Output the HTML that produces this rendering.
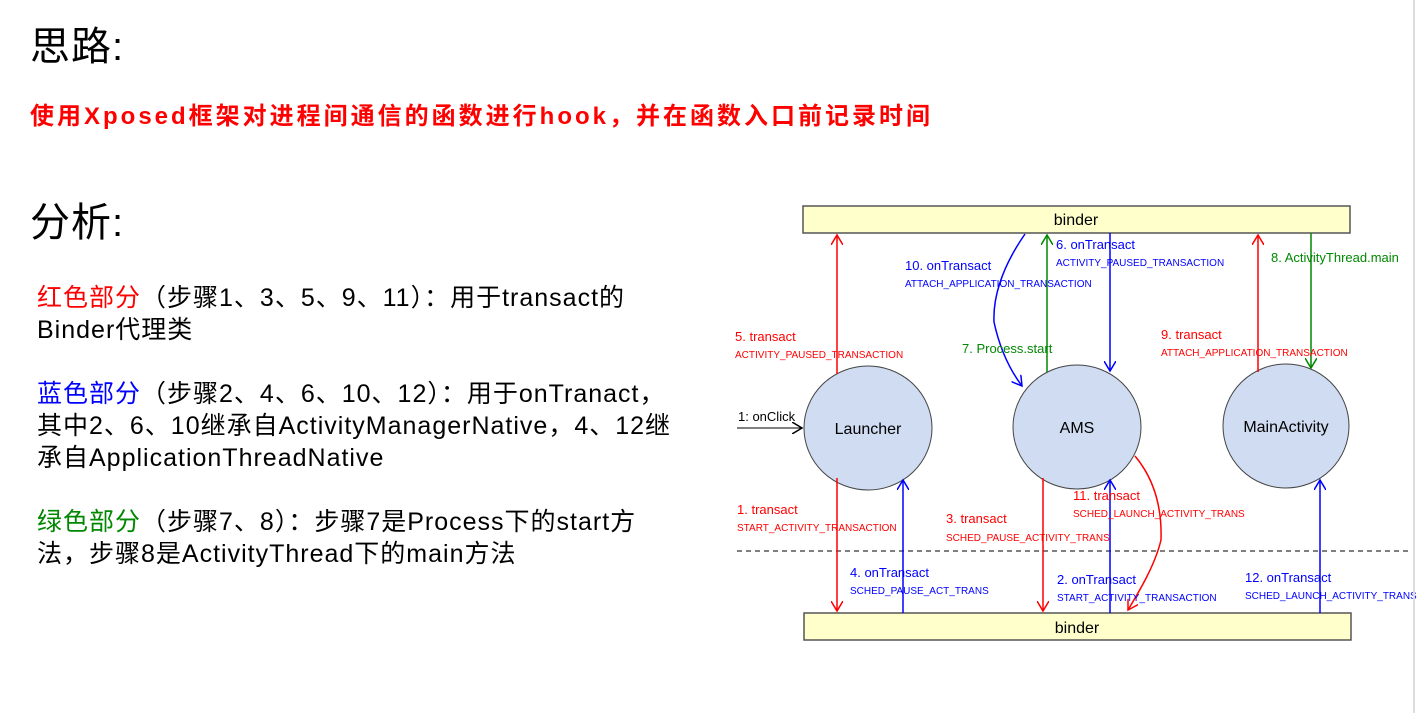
<!DOCTYPE html>
<html><head><meta charset="utf-8"><style>
body{margin:0;width:1424px;height:713px;background:#fff;position:relative;overflow:hidden;font-family:"Liberation Sans","Noto Sans CJK SC",sans-serif;}
.t{position:absolute;white-space:nowrap;}
svg{position:absolute;left:0;top:0;}
</style></head><body>
<div class="t" style="left:30px;top:14px;font-size:40px;letter-spacing:1px;">思路:</div>
<div class="t" style="left:30px;top:96px;font-size:24px;letter-spacing:3px;font-weight:bold;color:#f00;">使用Xposed框架对进程间通信的函数进行hook，并在函数入口前记录时间</div>
<div class="t" style="left:30px;top:190px;font-size:40px;letter-spacing:1px;">分析:</div>
<div class="t" style="left:37px;top:282px;font-size:25px;letter-spacing:1px;line-height:32px;"><span style="color:#f00">红色部分</span>（步骤1、3、5、9、11）：用于transact的<br>Binder代理类<br><br><span style="color:#00f">蓝色部分</span>（步骤2、4、6、10、12）：用于onTranact，<br>其中2、6、10继承自ActivityManagerNative，4、12继<br>承自ApplicationThreadNative<br><br><span style="color:#080">绿色部分</span>（步骤7、8）：步骤7是Process下的start方<br>法，步骤8是ActivityThread下的main方法</div>
<svg width="1424" height="713" font-family="Liberation Sans, sans-serif">
<defs>
<marker id="r" markerWidth="12" markerHeight="12" refX="10" refY="6" orient="auto" markerUnits="userSpaceOnUse"><path d="M0,0 L10,6 L0,12" fill="none" stroke="#f00" stroke-width="1.5"/></marker>
<marker id="b" markerWidth="12" markerHeight="12" refX="10" refY="6" orient="auto" markerUnits="userSpaceOnUse"><path d="M0,0 L10,6 L0,12" fill="none" stroke="#00f" stroke-width="1.5"/></marker>
<marker id="g" markerWidth="12" markerHeight="12" refX="10" refY="6" orient="auto" markerUnits="userSpaceOnUse"><path d="M0,0 L10,6 L0,12" fill="none" stroke="#080" stroke-width="1.5"/></marker>
<marker id="k" markerWidth="12" markerHeight="12" refX="10" refY="6" orient="auto" markerUnits="userSpaceOnUse"><path d="M0,0 L10,6 L0,12" fill="none" stroke="#000" stroke-width="1.5"/></marker>
</defs>
<rect x="803" y="206" width="547" height="27" fill="#ffffcc" stroke="#555" stroke-width="1.5"/>
<text x="1076" y="225" font-size="16" text-anchor="middle">binder</text>
<rect x="804" y="613" width="547" height="27" fill="#ffffcc" stroke="#555" stroke-width="1.5"/>
<text x="1077" y="633" font-size="16" text-anchor="middle">binder</text>
<line x1="737" y1="551" x2="1412" y2="551" stroke="#000" stroke-dasharray="5,4"/>
<ellipse cx="868" cy="428" rx="64" ry="62" fill="#cfdcf1" stroke="#444"/>
<ellipse cx="1077" cy="427" rx="64" ry="62" fill="#cfdcf1" stroke="#444"/>
<ellipse cx="1286" cy="426" rx="63" ry="62" fill="#cfdcf1" stroke="#444"/>
<text x="868" y="434" font-size="16" text-anchor="middle">Launcher</text>
<text x="1077" y="433" font-size="16" text-anchor="middle">AMS</text>
<text x="1286" y="432" font-size="16" text-anchor="middle">MainActivity</text>
<line x1="737" y1="428" x2="802" y2="428" stroke="#000" marker-end="url(#k)"/>
<text x="738" y="421" font-size="13">1: onClick</text>
<g stroke-width="1.5" fill="none">
<line x1="837" y1="374" x2="837" y2="235" stroke="#f00" marker-end="url(#r)"/>
<path d="M1025,234 C1000,270 993,300 994,322 C1000,350 1010,370 1022,386" stroke="#00f" marker-end="url(#b)"/>
<line x1="1047" y1="372" x2="1047" y2="235" stroke="#080" marker-end="url(#g)"/>
<line x1="1110" y1="233" x2="1110" y2="371" stroke="#00f" marker-end="url(#b)"/>
<line x1="1258" y1="372" x2="1258" y2="235" stroke="#f00" marker-end="url(#r)"/>
<line x1="1311" y1="233" x2="1311" y2="368" stroke="#080" marker-end="url(#g)"/>
<line x1="837" y1="478" x2="837" y2="611" stroke="#f00" marker-end="url(#r)"/>
<line x1="903" y1="613" x2="903" y2="480" stroke="#00f" marker-end="url(#b)"/>
<line x1="1043" y1="478" x2="1043" y2="611" stroke="#f00" marker-end="url(#r)"/>
<line x1="1110" y1="613" x2="1110" y2="480" stroke="#00f" marker-end="url(#b)"/>
<path d="M1135,456 C1155,480 1162,510 1161,540 C1155,565 1140,590 1128,610" stroke="#f00" marker-end="url(#r)"/>
<line x1="1320" y1="613" x2="1320" y2="480" stroke="#00f" marker-end="url(#b)"/>
</g>
<g font-size="13">
<text x="735" y="341" fill="#f00">5. transact</text>
<text x="735" y="358" fill="#f00" font-size="10">ACTIVITY_PAUSED_TRANSACTION</text>
<text x="905" y="270" fill="#00f">10. onTransact</text>
<text x="905" y="287" fill="#00f" font-size="10">ATTACH_APPLICATION_TRANSACTION</text>
<text x="1056" y="249" fill="#00f">6. onTransact</text>
<text x="1056" y="266" fill="#00f" font-size="10">ACTIVITY_PAUSED_TRANSACTION</text>
<text x="962" y="353" fill="#080">7. Process.start</text>
<text x="1271" y="262" fill="#080">8. ActivityThread.main</text>
<text x="1161" y="339" fill="#f00">9. transact</text>
<text x="1161" y="356" fill="#f00" font-size="10">ATTACH_APPLICATION_TRANSACTION</text>
<text x="737" y="514" fill="#f00">1. transact</text>
<text x="737" y="531" fill="#f00" font-size="10">START_ACTIVITY_TRANSACTION</text>
<text x="946" y="523" fill="#f00">3. transact</text>
<text x="946" y="541" fill="#f00" font-size="10">SCHED_PAUSE_ACTIVITY_TRANS</text>
<text x="1073" y="500" fill="#f00">11. transact</text>
<text x="1073" y="517" fill="#f00" font-size="10">SCHED_LAUNCH_ACTIVITY_TRANS</text>
<text x="850" y="577" fill="#00f">4. onTransact</text>
<text x="850" y="594" fill="#00f" font-size="10">SCHED_PAUSE_ACT_TRANS</text>
<text x="1057" y="584" fill="#00f">2. onTransact</text>
<text x="1057" y="601" fill="#00f" font-size="10">START_ACTIVITY_TRANSACTION</text>
<text x="1245" y="582" fill="#00f">12. onTransact</text>
<text x="1245" y="599" fill="#00f" font-size="10">SCHED_LAUNCH_ACTIVITY_TRANS</text>
</g>
<line x1="1414" y1="0" x2="1414" y2="713" stroke="#ddd" stroke-width="2"/>
</svg>
</body></html>
